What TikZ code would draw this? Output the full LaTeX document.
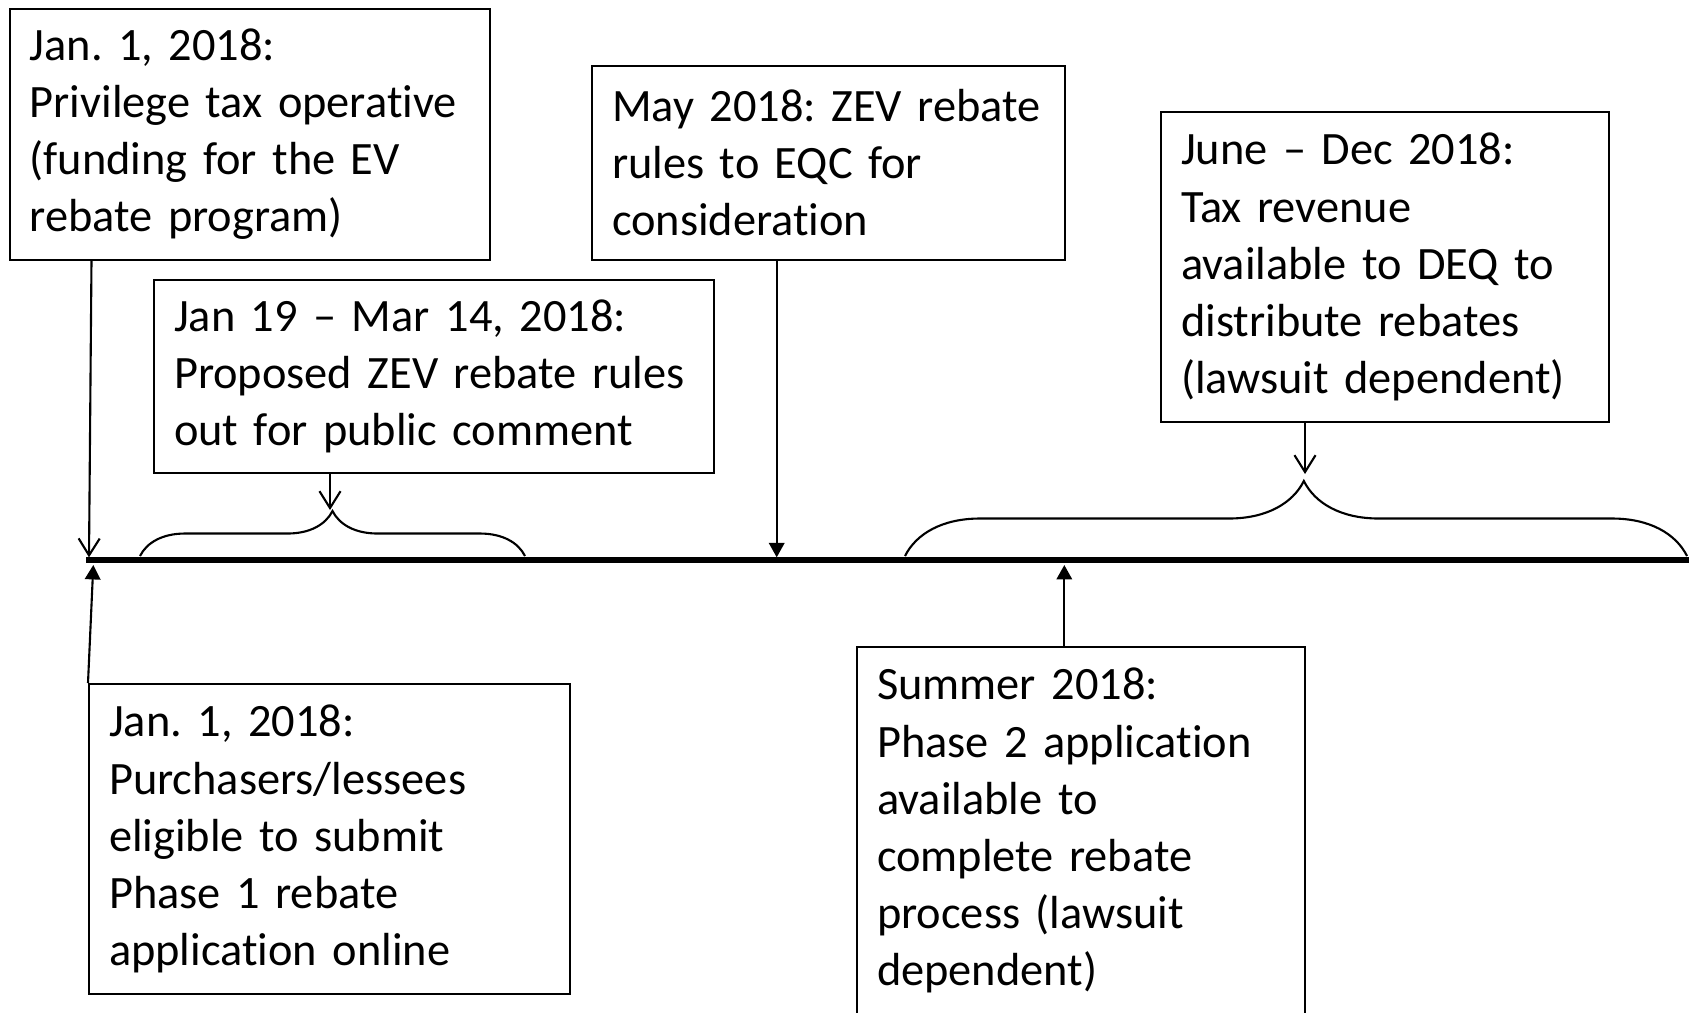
\documentclass[tikz,border=0pt]{standalone}
\usepackage{fontspec}
\setmainfont{Carlito}[Ligatures=NoCommon]
\usetikzlibrary{arrows.meta,decorations.pathreplacing}
\frenchspacing
\hyphenpenalty=10000

\begin{document}
\begin{tikzpicture}[
  event/.style={draw, line width=0.6pt, anchor=north west, align=left,
    inner xsep=0.2cm, inner ysep=0pt, font=\fontsize{13.2}{16.25}\selectfont},
  openarrow/.style={line width=0.6pt, -{Straight Barb[length=4.8pt,width=6pt]}},
  fullarrow/.style={line width=0.6pt, -{Triangle[length=4.1pt,width=4.4pt]}},
  curly/.style={line width=0.6pt, decorate, decoration={brace, amplitude=#1}}
]
\useasboundingbox (0,0) rectangle (16.89,-10.12);

% boxes above the line
\node[event, text width=4.40cm, minimum height=2.51cm] (privtax) at (0.086,-0.075)
  {Jan. 1, 2018:\\ Privilege tax operative\\ (funding for the EV\\ rebate program)};
\node[event, text width=5.20cm, minimum height=1.93cm] (comment) at (1.53,-2.79)
  {Jan 19 -- Mar 14, 2018:\\ Proposed ZEV rebate rules\\ out for public comment};
\node[event, text width=4.33cm, minimum height=1.935cm] (eqc) at (5.91,-0.65)
  {May 2018: ZEV rebate\\ rules to EQC for\\ consideration};
\node[event, text width=4.08cm, minimum height=3.10cm] (revenue) at (11.60,-1.11)
  {June -- Dec 2018:\\ Tax revenue\\ available to DEQ to\\ distribute rebates\\ (lawsuit dependent)};

% boxes below the line
\node[event, text width=4.41cm, minimum height=3.10cm] (phase1) at (0.88,-6.83)
  {Jan. 1, 2018:\\ Purchasers/lessees\\ eligible to submit\\ Phase 1 rebate\\ application online};
\node[event, text width=4.08cm, minimum height=3.67cm] (phase2) at (8.56,-6.46)
  {Summer 2018:\\ Phase 2 application\\ available to\\ complete rebate\\ process (lawsuit\\ dependent)};

% time line
\coordinate (start) at (0.86,-5.603);
\coordinate (finish) at (16.95,-5.603);
\draw[line width=1.7pt] (start) -- (finish);

% periods
\draw[curly=0.45cm] (1.40,-5.56) -- (5.25,-5.56);
\draw[curly=0.75cm, decoration={aspect=0.51}] (9.05,-5.56) -- (16.87,-5.56);

% pointers
\coordinate (t1) at (0.89,-5.573);
\coordinate (t2) at (0.933,-5.65);
\coordinate (t3) at (7.767,-5.573);
\coordinate (t4) at (10.643,-5.65);
\coordinate (b1) at (3.30,-5.10);
\coordinate (b2) at (13.05,-4.74);
\draw[openarrow] ([xshift=0.829cm]privtax.south west) -- (t1);
\draw[fullarrow] (phase1.north west) -- (t2);
\draw[fullarrow] (eqc.south -| t3) -- (t3);
\draw[fullarrow] (phase2.north -| t4) -- (t4);
\draw[openarrow] (comment.south -| b1) -- (b1);
\draw[openarrow] (revenue.south -| b2) -- (b2);
\end{tikzpicture}
\end{document}
